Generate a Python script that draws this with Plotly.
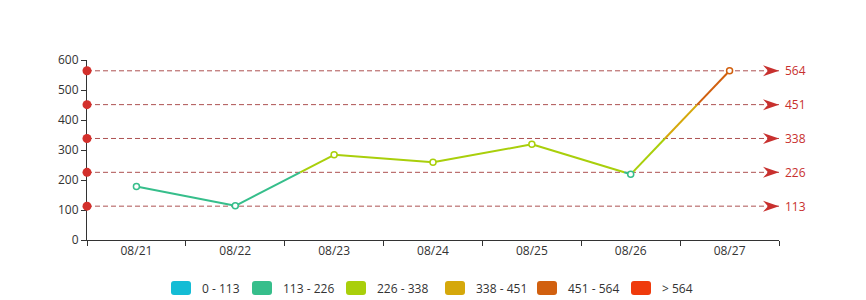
import plotly.graph_objects as go

# ---- data ----
dates = ["08/21", "08/22", "08/23", "08/24", "08/25", "08/26", "08/27"]
values = [178, 114, 284, 259, 319, 219, 564]
thresholds = [112.8, 225.6, 338.4, 451.2, 564]
threshold_labels = ["113", "226", "338", "451", "564"]
piece_labels = ["0 - 113", "113 - 226", "226 - 338", "338 - 451", "451 - 564", "> 564"]
piece_colors = ["#14bcd5", "#36be8b", "#a9cf0b", "#d5a80b", "#d1600f", "#ef3a0c"]

# ---- style / layout constants ----
W, H = 866, 300
L, R, T, B = 87, 87, 60, 60
PW, PH = W - L - R, H - T - B
FONT = "Open Sans, Noto Sans, sans-serif"
MARK_COLOR = "#c8302e"
DASH_COLOR = "#ad5252"
DOT_COLOR = "#d3302c"
legend_lefts_px = [171, 252, 346, 445, 537, 631]


def piece_index(v):
    for i in range(len(thresholds)):
        if v <= thresholds[i]:
            return i
    return len(thresholds)


fig = go.Figure()

# line split at thresholds so each part gets its piece colour
xs = list(range(len(dates)))
segments = []
for i in range(len(values) - 1):
    x0, y0, x1, y1 = xs[i], values[i], xs[i + 1], values[i + 1]
    cuts = [0.0, 1.0]
    for t in thresholds:
        if (y0 - t) * (y1 - t) < 0:
            cuts.append((t - y0) / (y1 - y0))
    cuts = sorted(cuts)
    for a, b in zip(cuts[:-1], cuts[1:]):
        ya, yb = y0 + a * (y1 - y0), y0 + b * (y1 - y0)
        xa, xb = x0 + a * (x1 - x0), x0 + b * (x1 - x0)
        idx = piece_index((ya + yb) / 2)
        segments.append((xa, ya, xb, yb, idx))

# mark lines (drawn beneath the series)
for t in thresholds:
    fig.add_shape(type="line", xref="x", yref="y", x0=-0.5, x1=6.5, y0=t, y1=t,
                  line=dict(color=DASH_COLOR, width=1, dash="5px,3px"), layer="below")

for xa, ya, xb, yb, idx in segments:
    fig.add_trace(go.Scatter(
        x=[xa, xb], y=[ya, yb], mode="lines",
        line=dict(color=piece_colors[idx], width=2),
        hoverinfo="skip", showlegend=False,
    ))

fig.add_trace(go.Scatter(
    x=xs, y=values, mode="markers",
    marker=dict(size=6, color="white", symbol="circle",
                line=dict(color=[piece_colors[piece_index(v)] for v in values], width=1.5)),
    showlegend=False, cliponaxis=False,
))

for t, lab in zip(thresholds, threshold_labels):
    fig.add_shape(type="path", xref="x", yref="y", xsizemode="pixel", ysizemode="pixel",
                  xanchor=6.5, yanchor=t,
                  path="M 0 0 L -16 5.5 L -11 0 L -16 -5.5 Z",
                  fillcolor=MARK_COLOR, line=dict(width=0), layer="above")
    fig.add_annotation(x=6.5, y=t, xref="x", yref="y", text=lab, showarrow=False,
                       xanchor="left", yanchor="middle", xshift=4,
                       font=dict(family=FONT, size=12, color=MARK_COLOR))

fig.add_trace(go.Scatter(
    x=[-0.5] * len(thresholds), y=thresholds, mode="markers",
    marker=dict(size=9, color=DOT_COLOR), cliponaxis=False,
    showlegend=False, hoverinfo="skip",
))

# piecewise legend (visual map)
sw, sh, r = 20, 14, 3
cy_px = 288
for left, lab, col in zip(legend_lefts_px, piece_labels, piece_colors):
    cx = (left + sw / 2 - L) / PW
    cy = (H - B - cy_px) / PH
    hw, hh = sw / 2, sh / 2
    path = (f"M {-hw + r} {-hh} L {hw - r} {-hh} Q {hw} {-hh} {hw} {-hh + r} "
            f"L {hw} {hh - r} Q {hw} {hh} {hw - r} {hh} L {-hw + r} {hh} "
            f"Q {-hw} {hh} {-hw} {hh - r} L {-hw} {-hh + r} Q {-hw} {-hh} {-hw + r} {-hh} Z")
    fig.add_shape(type="path", xref="paper", yref="paper", xsizemode="pixel", ysizemode="pixel",
                  xanchor=cx, yanchor=cy, path=path, fillcolor=col, line=dict(width=0))
    fig.add_annotation(x=(left + sw + 10 - L) / PW, y=cy, xref="paper", yref="paper",
                       text=lab, showarrow=False, xanchor="left", yanchor="middle",
                       xshift=-1, font=dict(family=FONT, size=12, color="#333"))

fig.update_xaxes(
    range=[-0.5, 6.5], tickvals=xs, ticktext=dates, ticks="",
    showline=True, linecolor="#333", linewidth=1, showgrid=False, zeroline=False,
    layer="below traces",
    tickfont=dict(family=FONT, size=12, color="#333"),
    minor=dict(tickmode="array", tickvals=[i - 0.5 for i in range(len(dates) + 1)],
               ticks="outside", ticklen=5, tickcolor="#333", tickwidth=1, showgrid=False),
)
fig.update_yaxes(
    range=[0, 600], dtick=100, ticks="outside", ticklen=5, tickcolor="#333",
    showline=True, linecolor="#333", linewidth=1, showgrid=False, zeroline=False,
    layer="below traces",
    tickfont=dict(family=FONT, size=12, color="#333"),
)
fig.update_layout(
    width=W, height=H, margin=dict(l=L, r=R, t=T, b=B),
    paper_bgcolor="white", plot_bgcolor="white", showlegend=False,
    font=dict(family=FONT, size=12, color="#333"),
)
fig.write_html("out.html")
